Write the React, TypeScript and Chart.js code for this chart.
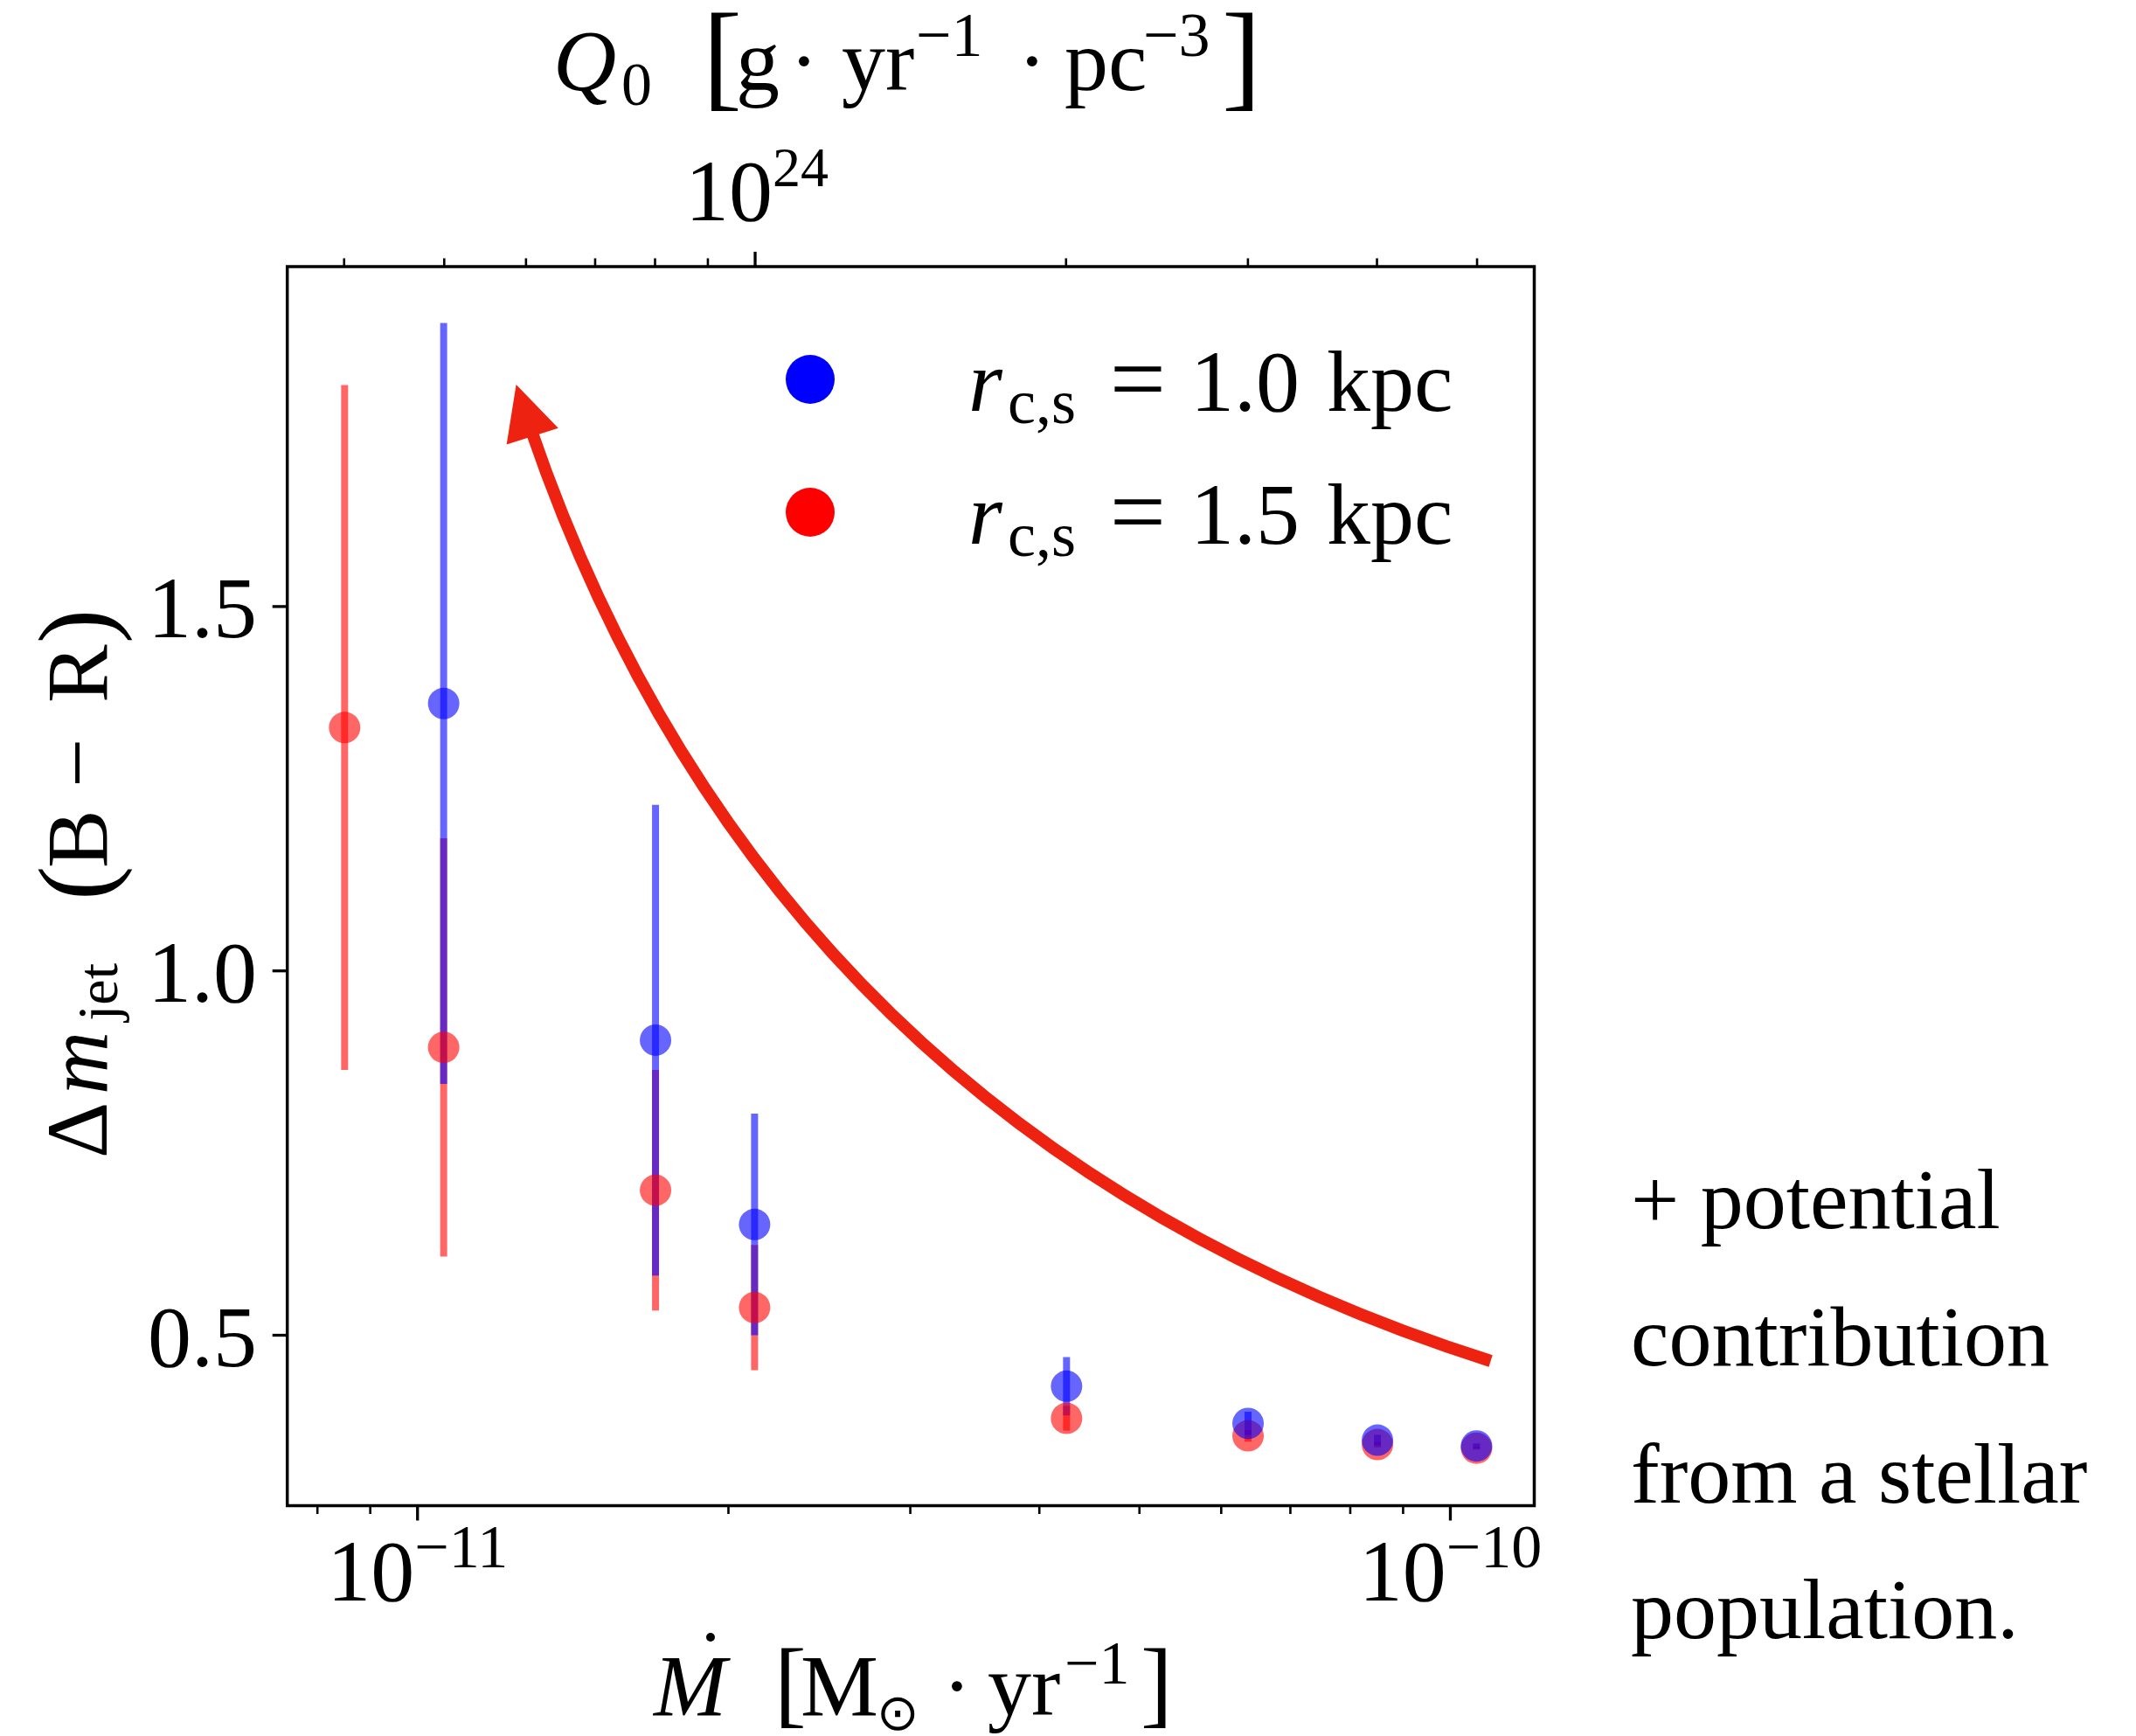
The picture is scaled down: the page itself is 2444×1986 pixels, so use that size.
import React, { useEffect, useRef } from 'react';
import { Chart, registerables } from 'chart.js';

Chart.register(...registerables);

const W = 2444;
const H = 1986;
const SERIF = '"Liberation Serif", "DejaVu Serif", serif';
const SYMBOL = '"DejaVu Sans", "DejaVu Serif", serif';

// ---------------- data ----------------
// accretion rate Mdot [Msun/yr] of each simulation column
const mdot = [8.5e-12, 1.06e-11, 1.7e-11, 2.12e-11, 4.25e-11, 6.37e-11, 8.5e-11, 1.06e-10];
// r_c,s = 1.0 kpc (blue)
const blueVals: (number | null)[] = [null, 1.367, 0.905, 0.652, 0.43, 0.379, 0.356, 0.348];
const blueErr: (number | null)[] = [null, 0.522, 0.323, 0.152, 0.04, 0.016, 0.0075, 0.0035];
// r_c,s = 1.5 kpc (red)
const redVals = [1.334, 0.895, 0.699, 0.538, 0.386, 0.362, 0.35, 0.345];
const redErr = [0.47, 0.287, 0.165, 0.086, 0.017, 0.008, 0.004, 0.002];

const seriesLabels = ['r_c,s = 1.0 kpc', 'r_c,s = 1.5 kpc'];

// axis ranges
const X_MIN = 7.48e-12;
const X_MAX = 1.2057e-10;
const Y_MIN = 0.2661;
const Y_MAX = 1.9665;
const Q0_PER_MDOT = 4.711e34; // top axis conversion Mdot -> Q0

// ticks
const yTicks = [0.5, 1.0, 1.5];
const yTickLabels = ['0.5', '1.0', '1.5'];
const xMajorTicks = [1e-11, 1e-10];
const xMajorExp = ['\u221211', '\u221210'];
const xMinorTicks = [8e-12, 9e-12, 2e-11, 3e-11, 4e-11, 5e-11, 6e-11, 7e-11, 8e-11, 9e-11];
const qMajorTicks = [1e24];
const qMajorExp = ['24'];
const qMinorTicks = [4e23, 5e23, 6e23, 7e23, 8e23, 9e23, 2e24, 3e24, 4e24, 5e24];

// annotation arrow (data coordinates: [Mdot, dm])
const arrowTail = [1.094e-10, 0.4646];
const arrowTip = [1.246e-11, 1.8046];
const ARROW_RAD = 0.26;

const sideText = ['+ potential', 'contribution', 'from a stellar', 'population.'];

// ---------------- styling ----------------
const BLUE_A = 'rgba(0,0,255,0.6)';
const RED_A = 'rgba(255,0,0,0.6)';
const ARROW_COLOR = 'rgb(238,34,16)';

function f(size: number, italic = false, fam = SERIF) {
  return `${italic ? 'italic ' : ''}${size}px ${fam}`;
}

type TItem = { t: string; x: number; y: number; size: number; it?: boolean; align?: CanvasTextAlign; fam?: string };

function drawItems(ctx: CanvasRenderingContext2D, items: TItem[]) {
  for (const s of items) {
    ctx.font = f(s.size, !!s.it, s.fam || SERIF);
    ctx.textAlign = s.align || 'left';
    ctx.fillText(s.t, s.x, s.y);
  }
}

function drawPow(ctx: CanvasRenderingContext2D, base: string, exp: string, cx: number, baseline: number, bSize: number, eSize: number, rise: number) {
  ctx.textAlign = 'left';
  ctx.font = f(bSize);
  const w1 = ctx.measureText(base).width;
  ctx.font = f(eSize);
  const w2 = ctx.measureText(exp).width;
  const start = cx - (w1 + w2) / 2;
  ctx.font = f(bSize);
  ctx.fillText(base, start, baseline);
  ctx.font = f(eSize);
  ctx.fillText(exp, start + w1, baseline - rise);
}

const decorPlugin = {
  id: 'decor',
  beforeDatasetsDraw(chart: any) {
    const ctx: CanvasRenderingContext2D = chart.ctx;
    const xs = chart.scales.x;
    const ys = chart.scales.y;
    ctx.save();
    ctx.lineWidth = 8;
    ctx.lineCap = 'butt';
    const bars = [
      { vals: redVals as (number | null)[], errs: redErr as (number | null)[], color: RED_A },
      { vals: blueVals, errs: blueErr, color: BLUE_A },
    ];
    for (const b of bars) {
      ctx.strokeStyle = b.color;
      b.vals.forEach((v, i) => {
        const e = b.errs[i];
        if (v == null || e == null) return;
        const px = xs.getPixelForValue(mdot[i]);
        ctx.beginPath();
        ctx.moveTo(px, ys.getPixelForValue(v + e));
        ctx.lineTo(px, ys.getPixelForValue(v - e));
        ctx.stroke();
      });
    }
    ctx.restore();
  },
  afterDatasetsDraw(chart: any) {
    const ctx: CanvasRenderingContext2D = chart.ctx;
    const xs = chart.scales.x;
    const x2 = chart.scales.x2;
    const ys = chart.scales.y;
    const { left, right, top, bottom } = chart.chartArea;
    ctx.save();

    // ---- arrow ----
    const p0 = { x: xs.getPixelForValue(arrowTail[0]), y: ys.getPixelForValue(arrowTail[1]) };
    const p2 = { x: xs.getPixelForValue(arrowTip[0]), y: ys.getPixelForValue(arrowTip[1]) };
    const dx = p2.x - p0.x;
    const dy = p2.y - p0.y;
    const c = { x: (p0.x + p2.x) / 2 + ARROW_RAD * dy, y: (p0.y + p2.y) / 2 - ARROW_RAD * dx };
    const headL = 62;
    const headHW = 31;
    const bez = (t: number) => ({
      x: (1 - t) * (1 - t) * p0.x + 2 * (1 - t) * t * c.x + t * t * p2.x,
      y: (1 - t) * (1 - t) * p0.y + 2 * (1 - t) * t * c.y + t * t * p2.y,
    });
    let tEnd = 1;
    while (tEnd > 0.5) {
      const p = bez(tEnd);
      if (Math.hypot(p.x - p2.x, p.y - p2.y) >= headL * 0.85) break;
      tEnd -= 0.001;
    }
    const q = { x: p0.x + (c.x - p0.x) * tEnd, y: p0.y + (c.y - p0.y) * tEnd };
    const pe = bez(tEnd);
    ctx.strokeStyle = ARROW_COLOR;
    ctx.lineWidth = 14;
    ctx.lineCap = 'butt';
    ctx.beginPath();
    ctx.moveTo(p0.x, p0.y);
    ctx.quadraticCurveTo(q.x, q.y, pe.x, pe.y);
    ctx.stroke();
    const tl = Math.hypot(p2.x - c.x, p2.y - c.y);
    const ux = (p2.x - c.x) / tl;
    const uy = (p2.y - c.y) / tl;
    const bx = p2.x - ux * headL;
    const by = p2.y - uy * headL;
    ctx.fillStyle = ARROW_COLOR;
    ctx.beginPath();
    ctx.moveTo(p2.x, p2.y);
    ctx.lineTo(bx - uy * headHW, by + ux * headHW);
    ctx.lineTo(bx + uy * headHW, by - ux * headHW);
    ctx.closePath();
    ctx.fill();

    // ---- frame ----
    ctx.strokeStyle = '#000';
    ctx.lineWidth = 3.5;
    ctx.strokeRect(left, top, right - left, bottom - top);

    // ---- ticks ----
    const tick = (x1: number, y1: number, x2p: number, y2p: number, w: number) => {
      ctx.lineWidth = w;
      ctx.beginPath();
      ctx.moveTo(x1, y1);
      ctx.lineTo(x2p, y2p);
      ctx.stroke();
    };
    for (const v of xMajorTicks) { const px = xs.getPixelForValue(v); tick(px, bottom, px, bottom + 17, 3.3); }
    for (const v of xMinorTicks) { const px = xs.getPixelForValue(v); tick(px, bottom, px, bottom + 9.5, 2.6); }
    for (const v of qMajorTicks) { const px = x2.getPixelForValue(v); tick(px, top, px, top - 17, 3.3); }
    for (const v of qMinorTicks) { const px = x2.getPixelForValue(v); tick(px, top, px, top - 9.5, 2.6); }
    for (const v of yTicks) { const py = ys.getPixelForValue(v); tick(left, py, left - 17, py, 3.3); }

    // ---- tick labels ----
    ctx.fillStyle = '#000';
    ctx.textBaseline = 'alphabetic';
    yTicks.forEach((v, i) => {
      const py = ys.getPixelForValue(v);
      ctx.font = f(100);
      ctx.textAlign = 'right';
      ctx.fillText(yTickLabels[i], 294, py + 35);
    });
    xMajorTicks.forEach((v, i) => {
      drawPow(ctx, '10', xMajorExp[i], xs.getPixelForValue(v), 1831, 100, 70, 38);
    });
    qMajorTicks.forEach((v, i) => {
      drawPow(ctx, '10', qMajorExp[i], x2.getPixelForValue(v) + 2, 252, 100, 64, 39);
    });

    // ---- bottom title: Mdot [Msun . yr^-1] ----
    drawItems(ctx, [
      { t: 'M', x: 748, y: 1962, size: 100, it: true },
      { t: '[', x: 886, y: 1962, size: 110 },
      { t: 'M', x: 916, y: 1962, size: 100 },
      { t: '\u2299', x: 1003, y: 1979, size: 58, fam: SYMBOL },
      { t: '\u00b7', x: 1095, y: 1962, size: 100, align: 'center' },
      { t: 'yr', x: 1130, y: 1962, size: 100 },
      { t: '\u22121', x: 1218, y: 1926, size: 70 },
      { t: ']', x: 1305, y: 1962, size: 110 },
    ]);
    ctx.beginPath();
    ctx.arc(813, 1873, 5, 0, Math.PI * 2);
    ctx.fill();

    // ---- top title: Q0 [g . yr^-1 . pc^-3] ----
    drawItems(ctx, [
      { t: 'Q', x: 633, y: 103, size: 100, it: true },
      { t: '0', x: 711, y: 120, size: 70 },
      { t: '[', x: 804, y: 109, size: 135 },
      { t: 'g', x: 842, y: 103, size: 100 },
      { t: '\u00b7', x: 920, y: 103, size: 100, align: 'center' },
      { t: 'yr', x: 963, y: 103, size: 100 },
      { t: '\u22121', x: 1048, y: 64, size: 72 },
      { t: '\u00b7', x: 1181, y: 103, size: 100, align: 'center' },
      { t: 'pc', x: 1218, y: 103, size: 100 },
      { t: '\u22123', x: 1308, y: 64, size: 72 },
      { t: ']', x: 1398, y: 109, size: 135 },
    ]);

    // ---- y title (rotated) ----
    ctx.save();
    ctx.translate(122, 0);
    ctx.rotate(-Math.PI / 2);
    const yl: { t: string; s: number; v: number; size: number; it?: boolean }[] = [
      { t: '\u0394', s: 1325, v: 0, size: 100 },
      { t: 'm', s: 1252, v: 0, size: 100, it: true },
      { t: 'jet', s: 1168, v: 12, size: 66 },
      { t: '(', s: 1030, v: 4, size: 118 },
      { t: 'B', s: 993, v: 0, size: 100 },
      { t: '\u2212', s: 901, v: 0, size: 100 },
      { t: 'R', s: 804, v: 0, size: 100 },
      { t: ')', s: 736, v: 4, size: 118 },
    ];
    ctx.textAlign = 'left';
    for (const it of yl) {
      ctx.font = f(it.size, !!it.it);
      ctx.fillText(it.t, -it.s, it.v);
    }
    ctx.restore();

    // ---- legend ----
    const legendRows = [
      { color: '#0000ff', y: 434, num: '1.0' },
      { color: '#ff0000', y: 586, num: '1.5' },
    ];
    for (const r of legendRows) {
      ctx.fillStyle = r.color;
      ctx.beginPath();
      ctx.arc(927, r.y, 28, 0, Math.PI * 2);
      ctx.fill();
      ctx.fillStyle = '#000';
      const bl = r.y + 36;
      drawItems(ctx, [
        { t: 'r', x: 1108, y: bl, size: 100, it: true },
        { t: 'c,s', x: 1153, y: bl + 14, size: 72 },
        { t: '=', x: 1302, y: bl + 2, size: 114, align: 'center' },
        { t: r.num, x: 1362, y: bl, size: 100 },
        { t: 'kpc', x: 1518, y: bl, size: 100 },
      ]);
    }

    // ---- side note ----
    const sideBase = [1405, 1562, 1719, 1874];
    sideText.forEach((line, i) => {
      ctx.font = f(98);
      ctx.textAlign = 'left';
      ctx.fillText(line, 1866, sideBase[i]);
    });

    ctx.restore();
  },
};

export default function App() {
  const ref = useRef<HTMLCanvasElement>(null);
  useEffect(() => {
    const canvas = ref.current;
    if (!canvas) return;
    const bluePts = mdot
      .map((x, i) => ({ x, y: blueVals[i] }))
      .filter((p) => p.y != null) as { x: number; y: number }[];
    const redPts = mdot.map((x, i) => ({ x, y: redVals[i] }));
    const chart = new Chart(canvas, {
      type: 'scatter',
      data: {
        datasets: [
          { label: seriesLabels[0], data: bluePts, backgroundColor: BLUE_A, borderWidth: 0, pointRadius: 18, pointHoverRadius: 18 },
          { label: seriesLabels[1], data: redPts, backgroundColor: RED_A, borderWidth: 0, pointRadius: 18, pointHoverRadius: 18 },
        ],
      },
      options: {
        responsive: false,
        animation: false,
        devicePixelRatio: 1,
        events: [],
        layout: { padding: { left: 328.7, top: 305, right: W - 1755.5, bottom: H - 1722.5 } },
        plugins: { legend: { display: false }, tooltip: { enabled: false }, title: { display: false } },
        scales: {
          x: { type: 'logarithmic', min: X_MIN, max: X_MAX, display: false },
          x2: { type: 'logarithmic', position: 'top', min: X_MIN * Q0_PER_MDOT, max: X_MAX * Q0_PER_MDOT, display: false },
          y: { type: 'linear', min: Y_MIN, max: Y_MAX, display: false },
        },
      } as any,
      plugins: [decorPlugin as any],
    });
    return () => chart.destroy();
  }, []);
  return (
    <div style={{ position: 'fixed', left: 0, top: 0, width: W, height: H, background: '#fff' }}>
      <canvas ref={ref} width={W} height={H} style={{ width: W, height: H, display: 'block' }} />
    </div>
  );
}
